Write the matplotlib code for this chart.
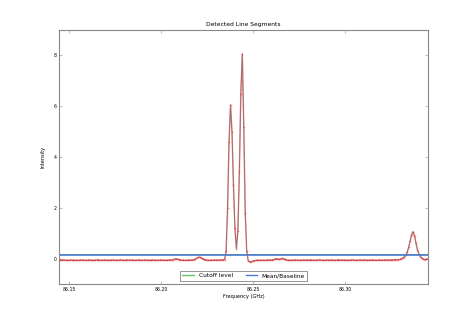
import numpy as np
import matplotlib
matplotlib.use('Agg')
import matplotlib.pyplot as plt
from matplotlib.ticker import FormatStrFormatter

# spectrum channels: first channel frequency and channel width (GHz)
freq_start = 86.145
chan_width = 0.0008

intensity = [
    -0.06, -0.07, -0.06, -0.05, -0.06, -0.07, -0.06, -0.06, -0.05, -0.06,
    -0.07, -0.06, -0.06, -0.07, -0.06, -0.05, -0.06, -0.06, -0.07, -0.06,
    -0.05, -0.06, -0.07, -0.07, -0.06, -0.05, -0.05, -0.06, -0.07, -0.06,
    -0.06, -0.05, -0.06, -0.07, -0.06, -0.06, -0.05, -0.06, -0.06, -0.07,
    -0.06, -0.05, -0.05, -0.06, -0.07, -0.06, -0.05, -0.06, -0.06, -0.05,
    -0.06, -0.07, -0.06, -0.06, -0.05, -0.06, -0.07, -0.06, -0.05, -0.06,
    -0.06, -0.07, -0.06, -0.05, -0.06, -0.06, -0.07, -0.06, -0.06, -0.05,
    -0.06, -0.06, -0.07, -0.06, -0.06, -0.05, -0.05, -0.04, -0.02, 0.00,
    -0.02, -0.04, -0.05, -0.06, -0.06, -0.07, -0.06, -0.06, -0.05, -0.06,
    -0.05, -0.04, -0.02, 0.02, 0.05, 0.06, 0.04, 0.00, -0.03, -0.05,
    -0.06, -0.06, -0.07, -0.06, -0.06, -0.05, -0.06, -0.06, -0.05, -0.06,
    -0.05, -0.04, -0.04, 0.30, 2.00, 4.60, 6.05, 5.00, 2.90, 1.20,
    0.40, 1.10, 3.40, 6.50, 8.05, 5.20, 1.80, 0.30, -0.08, -0.12,
    -0.12, -0.10, -0.08, -0.07, -0.07, -0.06, -0.07, -0.06, -0.06, -0.07,
    -0.06, -0.06, -0.05, -0.05, -0.06, -0.04, -0.02, 0.00, -0.01, -0.03,
    -0.01, 0.01, -0.01, -0.03, -0.05, -0.06, -0.06, -0.07, -0.06, -0.06,
    -0.05, -0.06, -0.06, -0.07, -0.06, -0.05, -0.06, -0.06, -0.05, -0.06,
    -0.06, -0.05, -0.06, -0.07, -0.06, -0.06, -0.05, -0.05, -0.06, -0.06,
    -0.07, -0.06, -0.05, -0.06, -0.06, -0.05, -0.06, -0.07, -0.06, -0.05,
    -0.05, -0.06, -0.06, -0.05, -0.06, -0.07, -0.06, -0.06, -0.05, -0.05,
    -0.06, -0.06, -0.07, -0.06, -0.05, -0.06, -0.06, -0.05, -0.06, -0.07,
    -0.06, -0.06, -0.05, -0.06, -0.06, -0.07, -0.06, -0.05, -0.06, -0.06,
    -0.06, -0.05, -0.05, -0.06, -0.06, -0.05, -0.05, -0.05, -0.04, -0.04,
    -0.04, -0.03, -0.01, 0.02, 0.06, 0.13, 0.25, 0.45, 0.70, 0.95,
    1.06, 0.90, 0.60, 0.35, 0.18, 0.08, 0.02, -0.02, -0.04, -0.03,
    -0.01,
]

cutoff_level = 0.19
baseline_level = 0.16

freq_ticks = [86.15, 86.20, 86.25, 86.30]
freq = freq_start + chan_width * np.arange(len(intensity))

fig = plt.figure(figsize=(4.75, 3.16), dpi=100)
ax = fig.add_axes([0.125, 0.101, 0.776, 0.804])

# red trace + dots, grey line on top
ax.plot(freq, intensity, color='r', alpha=0.4, linewidth=1.1)
ax.plot(freq, intensity, color='#555555', alpha=0.6, linewidth=0.7)
ax.plot(freq, intensity, 'r.', alpha=0.4, markersize=2.6, markeredgewidth=0)
ax.axhline(cutoff_level, color='#66c266', linewidth=0.7, label='Cutoff level')
ax.axhline(baseline_level, color='#4a7ad0', linewidth=1.2, label='Mean/Baseline')

ax.set_xlim(86.1448, 86.3451)
ax.set_ylim(-1, 9)
ax.set_xticks(freq_ticks)
ax.xaxis.set_major_formatter(FormatStrFormatter('%.2f'))
ax.set_yticks([0, 2, 4, 6, 8])

ax.tick_params(direction='in', top=True, right=True, length=2, width=0.4,
               labelsize=3.3, pad=2, color='#888888')
for s in ax.spines.values():
    s.set_color('#888888')
    s.set_linewidth(0.8)

ax.set_title('Detected Line Segments', fontsize=4.3, pad=3)
ax.set_xlabel('Frequency (GHz)', fontsize=3.6, labelpad=1.5)
ax.set_ylabel('Intensity', fontsize=3.6, labelpad=6)

leg = ax.legend(loc='lower center', ncol=2, fontsize=4.2, frameon=True,
                fancybox=False, handlelength=2.0, borderpad=0.4,
                columnspacing=2.2, borderaxespad=0.6)
for h, c in zip(leg.get_lines(), ['#66c266', '#4a7ad0']):
    h.set_linewidth(1.0)
    h.set_color(c)
leg.get_frame().set_edgecolor('#666666')
leg.get_frame().set_linewidth(0.6)

fig.savefig('out.png', dpi=100)
